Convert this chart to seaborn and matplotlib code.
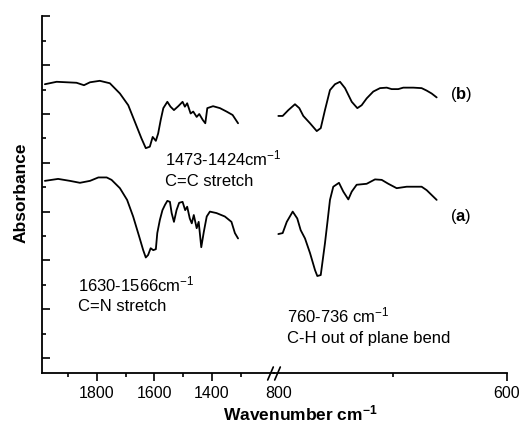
import numpy as np
import pandas as pd
import matplotlib
matplotlib.use("Agg")
import matplotlib.pyplot as plt
from matplotlib.ticker import FixedLocator, NullFormatter
import seaborn as sns

# ---------------- data ----------------
# left window, 2000-1200 cm-1
wn_left_b = [1981, 1940, 1871, 1845, 1824, 1790, 1755, 1720, 1691, 1668, 1645, 1630,
             1616, 1606, 1595, 1587, 1578, 1569, 1555, 1544, 1532, 1517, 1502, 1494,
             1486, 1474, 1465, 1453, 1444, 1432, 1423, 1416, 1396, 1372, 1349, 1328, 1309]
ab_left_b = [5.61, 5.66, 5.64, 5.59, 5.65, 5.68, 5.63, 5.42, 5.18, 4.84, 4.50, 4.30,
             4.33, 4.53, 4.45, 4.60, 4.88, 5.12, 5.25, 5.15, 5.08, 5.16, 5.25, 5.15,
             5.22, 5.01, 5.05, 4.94, 5.00, 4.88, 4.81, 5.12, 5.16, 5.12, 5.05, 4.98, 4.81]

wn_left_a = [1981, 1935, 1894, 1859, 1824, 1795, 1766, 1749, 1720, 1695, 1674, 1653,
             1639, 1630, 1622, 1613, 1604, 1595, 1590, 1581, 1572, 1563, 1555, 1546,
             1540, 1532, 1523, 1514, 1502, 1493, 1486, 1477, 1470, 1463, 1453, 1446,
             1437, 1428, 1418, 1407, 1384, 1355, 1332, 1320, 1309]
ab_left_a = [3.63, 3.67, 3.63, 3.59, 3.63, 3.70, 3.70, 3.65, 3.48, 3.24, 2.90, 2.49,
             2.21, 2.06, 2.11, 2.25, 2.21, 2.23, 2.56, 2.83, 3.03, 3.14, 3.22, 3.20,
             2.97, 2.79, 3.03, 3.18, 3.20, 3.03, 3.10, 2.86, 2.76, 2.93, 2.66, 2.79,
             2.27, 2.59, 2.90, 3.00, 2.97, 2.90, 2.79, 2.56, 2.45]

# right window, 800-600 cm-1
wn_right_b = [800.6, 796.8, 791.8, 786.0, 782.2, 778.7, 772.8, 766.9, 763.4, 759.7,
              755.3, 750.9, 746.5, 742.1, 736.2, 731.3, 727.5, 723.1, 717.3, 711.4,
              705.5, 701.2, 695.4, 691.0, 682.2, 674.9, 670.5, 666.1, 661.7]
ab_right_b = [4.96, 4.96, 5.08, 5.20, 5.12, 4.96, 4.81, 4.65, 4.71, 5.08,
              5.49, 5.61, 5.66, 5.53, 5.25, 5.12, 5.18, 5.32, 5.46, 5.53,
              5.54, 5.51, 5.51, 5.54, 5.54, 5.53, 5.48, 5.42, 5.34]

wn_right_a = [800.6, 796.8, 793.2, 788.0, 784.0, 781.0, 777.2, 772.8, 768.4, 766.4,
              763.4, 759.7, 757.3, 755.3, 752.4, 747.4, 743.6, 739.2, 736.2, 731.9,
              723.1, 715.8, 709.9, 704.1, 696.8, 688.0, 674.9, 670.5, 666.1, 661.7]
ab_right_a = [2.54, 2.56, 2.79, 3.00, 2.86, 2.62, 2.45, 2.15, 1.80, 1.68,
              1.70, 2.35, 2.83, 3.24, 3.51, 3.59, 3.41, 3.25, 3.41, 3.55,
              3.57, 3.66, 3.65, 3.57, 3.48, 3.51, 3.51, 3.44, 3.34, 3.24]

left_major = [1800, 1600, 1400]
left_minor = [1900, 1700, 1500, 1300]
right_major = [800, 600]
right_minor = [700]

# ---------------- styling ----------------
sns.set_theme(style="ticks")
plt.rcParams["font.family"] = ["Liberation Sans", "DejaVu Sans"]
plt.rcParams["mathtext.fontset"] = "custom"
plt.rcParams["mathtext.rm"] = "Liberation Sans"
plt.rcParams["mathtext.bf"] = "Liberation Sans:bold"
plt.rcParams["mathtext.it"] = "Liberation Sans:italic"
for k in ("text.color", "axes.edgecolor", "axes.labelcolor", "xtick.color", "ytick.color"):
    plt.rcParams[k] = "black"

W, H = 522, 437
fig = plt.figure(figsize=(W / 100, H / 100), dpi=100)

x0, xb, x1 = 42, 274, 507
ytop, ybot = 16, 373
bottom = 1 - ybot / H
height = (ybot - ytop) / H
axL = fig.add_axes([x0 / W, bottom, (xb - x0) / W, height])
axR = fig.add_axes([xb / W, bottom, (x1 - xb) / W, height], sharey=axL)
axL.patch.set_visible(False)
axR.patch.set_visible(False)

lw = 1.3
dL_a = pd.DataFrame({"wn": wn_left_a, "ab": ab_left_a})
dL_b = pd.DataFrame({"wn": wn_left_b, "ab": ab_left_b})
dR_a = pd.DataFrame({"wn": wn_right_a, "ab": ab_right_a})
dR_b = pd.DataFrame({"wn": wn_right_b, "ab": ab_right_b})
for d, ax in [(dL_a, axL), (dL_b, axL), (dR_a, axR), (dR_b, axR)]:
    sns.lineplot(data=d, x="wn", y="ab", ax=ax, color="black", linewidth=lw,
                 sort=False, estimator=None)

axL.set_xlim(1991, 1184)
axR.set_xlim(804.4, 600)
axL.set_ylim(-0.307, 7.008)

for ax in (axL, axR):
    ax.set_xlabel("")
    ax.set_ylabel("")
    for s in ("top", "right"):
        ax.spines[s].set_visible(False)
    ax.spines["bottom"].set_linewidth(1.3)
    ax.spines["left"].set_linewidth(1.3)
    ax.tick_params(axis="x", which="major", direction="out", length=6, width=1.2,
                   labelsize=11.5, pad=3, colors="black")
    ax.tick_params(axis="x", which="minor", direction="out", length=3, width=1.2)
axR.spines["left"].set_visible(False)
axR.tick_params(axis="y", which="both", left=False, labelleft=False)

axL.xaxis.set_major_locator(FixedLocator(left_major))
axL.xaxis.set_minor_locator(FixedLocator(left_minor))
axL.set_xticklabels([str(v) for v in left_major])
axR.xaxis.set_major_locator(FixedLocator(right_major))
axR.xaxis.set_minor_locator(FixedLocator(right_minor))
axR.set_xticklabels([str(v) for v in right_major])
axR.xaxis.get_major_ticks()[0].tick1line.set_visible(False)

axL.yaxis.set_major_locator(FixedLocator(list(range(0, 8))))
axL.yaxis.set_minor_locator(FixedLocator([i + 0.5 for i in range(0, 7)]))
axL.yaxis.set_major_formatter(NullFormatter())
axL.tick_params(axis="y", which="major", direction="in", length=6, width=1.2)
axL.tick_params(axis="y", which="minor", direction="in", length=3, width=1.2)

# break marks
for xp in (270.5, 277.5):
    fig.add_artist(plt.Line2D([(xp - 2.8) / W, (xp + 2.8) / W],
                              [1 - 380 / H, 1 - 367 / H],
                              color="black", linewidth=1.2))

fs = 12
axL.text(1563, 3.95, "1473-1424cm$^{-1}$", fontsize=fs, ha="left", va="baseline")
axL.text(1563, 3.52, "C=C stretch", fontsize=fs, ha="left", va="baseline")
axL.text(1866, 1.37, "1630-1566cm$^{-1}$", fontsize=fs, ha="left", va="baseline")
axL.text(1866, 0.96, "C=N stretch", fontsize=fs, ha="left", va="baseline")
axR.text(793, 0.72, "760-736 cm$^{-1}$", fontsize=fs, ha="left", va="baseline")
axR.text(793, 0.31, "C-H out of plane bend", fontsize=fs, ha="left", va="baseline")
axR.text(650, 5.31, r"($\mathbf{b}$)", fontsize=fs, ha="left", va="baseline")
axR.text(650, 2.81, r"($\mathbf{a}$)", fontsize=fs, ha="left", va="baseline")

fig.text(21 / W, 1 - 193 / H, "Absorbance", rotation=90, fontsize=12.5,
         fontweight="bold", ha="center", va="center")
fig.text(300 / W, 1 - 413 / H, r"Wavenumber cm$^{\mathbf{-1}}$", fontsize=12.5,
         fontweight="bold", ha="center", va="center")

fig.savefig("out.png", dpi=100)
